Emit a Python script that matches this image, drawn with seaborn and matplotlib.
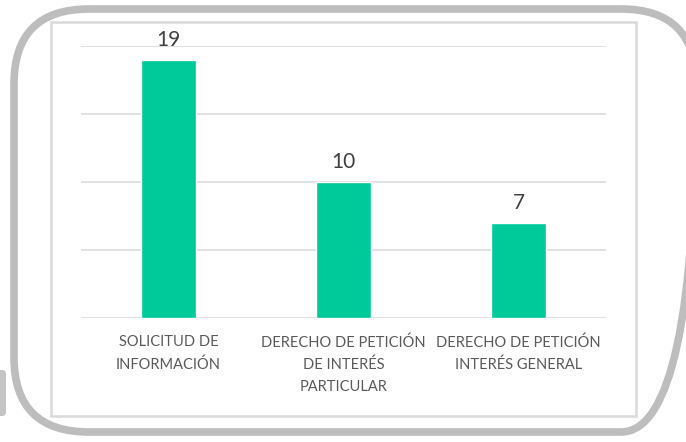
import seaborn as sns
import pandas as pd
import matplotlib.pyplot as plt
from matplotlib.patches import FancyBboxPatch, Rectangle

# Chart data
categories = ['SOLICITUD DE\nINFORMACIÓN',
              'DERECHO DE PETICIÓN\nDE INTERÉS\nPARTICULAR',
              'DERECHO DE PETICIÓN\nINTERÉS GENERAL']
counts = [19, 10, 7]

df = pd.DataFrame({'tipo': categories, 'cantidad': counts})

sns.set_style('white')
plt.rcParams['font.family'] = ['Lato', 'DejaVu Sans']

fig = plt.figure(figsize=(6.86, 4.42), dpi=100)
W, H = 686, 442

# background layer in pixel units for the frames
bg = fig.add_axes([0, 0, 1, 1])
bg.set_xlim(0, W)
bg.set_ylim(H, 0)
bg.axis('off')

# Outer rounded frame
bg.add_patch(FancyBboxPatch((14, 9), 682, 423,
                            boxstyle='round,pad=0,rounding_size=75',
                            fill=False, edgecolor='#bdbdbd', linewidth=5.5))
# small piece at the left edge
bg.add_patch(FancyBboxPatch((-10, 370), 16, 46,
                            boxstyle='round,pad=0,rounding_size=4',
                            facecolor='#c4c4c4', edgecolor='none'))
# Inner chart area border
bg.add_patch(Rectangle((51, 22), 585, 394, fill=False,
                       edgecolor='#d9d9d9', linewidth=1.8))

ax = fig.add_axes([81 / W, 124 / H, 525 / W, 272 / H])
sns.barplot(data=df, x='tipo', y='cantidad', color='#00C99A',
            width=0.315, saturation=1, ax=ax)

ax.set_ylim(0, 20)
ax.set_xlim(-0.5, 2.5)
ax.set_yticks([0, 5, 10, 15, 20])
ax.yaxis.grid(True, color='#d9d9d9', linewidth=1.1)
ax.set_axisbelow(True)
ax.tick_params(axis='y', left=False, labelleft=False)
ax.tick_params(axis='x', bottom=False, pad=9, labelsize=10.5,
               labelcolor='#595959')
for lbl in ax.get_xticklabels():
    lbl.set_linespacing(1.7)
    lbl.set_verticalalignment('top')
for s in ax.spines.values():
    s.set_visible(False)
ax.set_xlabel('')
ax.set_ylabel('')

for i, v in enumerate(counts):
    ax.annotate(str(v), (i, v), xytext=(0, 7), textcoords='offset points',
                ha='center', va='bottom', fontsize=15, color='#404040')

fig.savefig('out.png', dpi=100)
